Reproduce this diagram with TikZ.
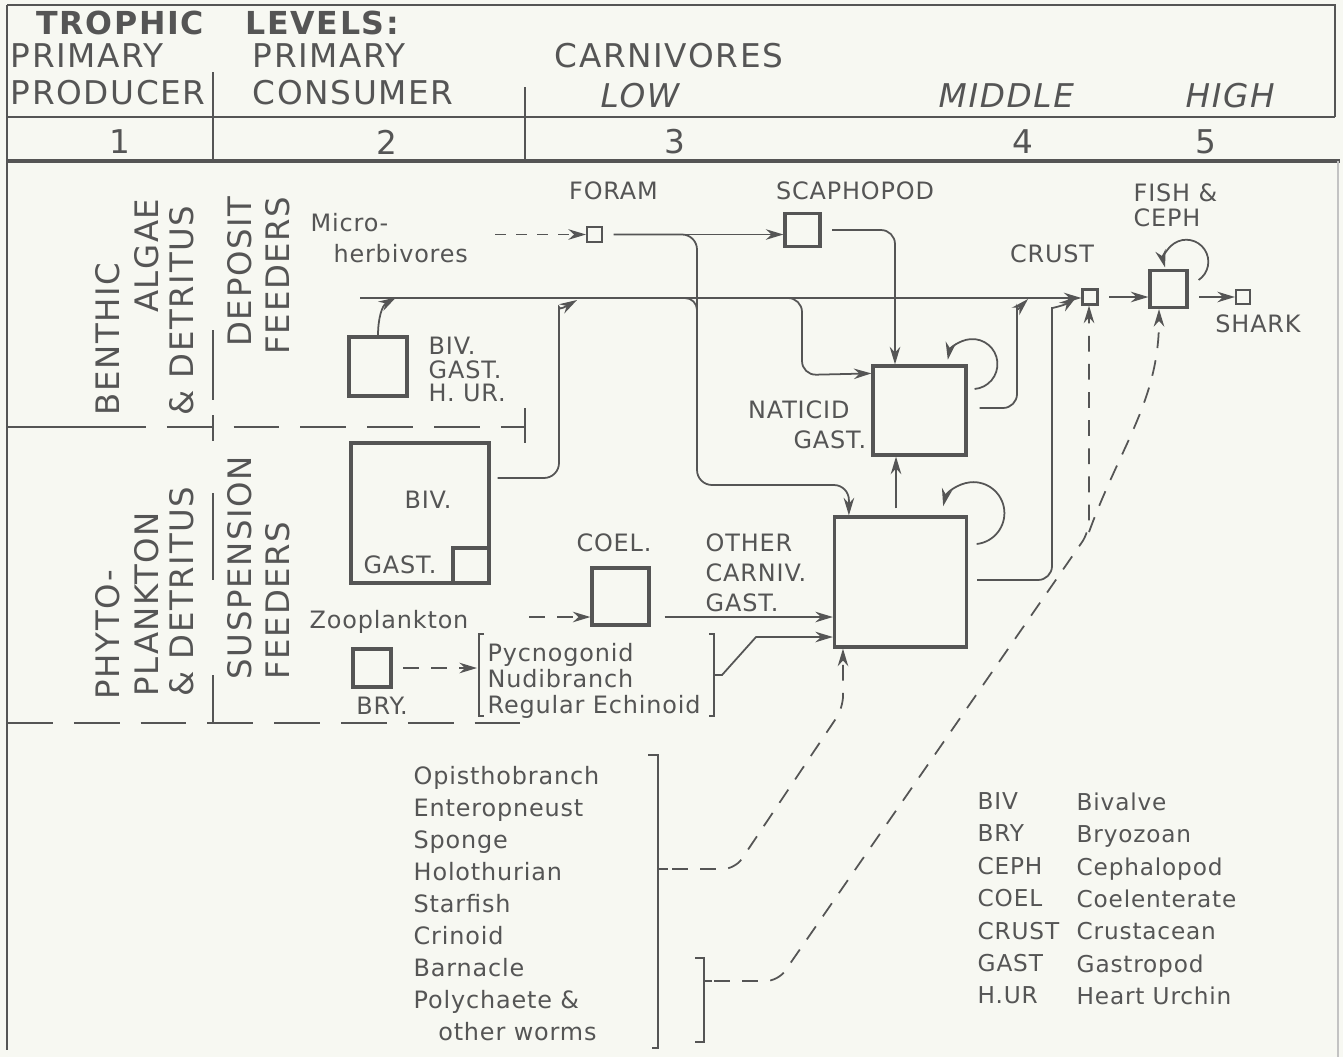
\documentclass[tikz,border=0pt]{standalone}
\usepackage{fontspec}
\setmainfont{DejaVu Sans}[LetterSpace=3.5]
\newfontfamily\headfont{DejaVu Sans}[LetterSpace=5]
\usetikzlibrary{arrows.meta}
\definecolor{ink}{RGB}{85,85,85}
\definecolor{paper}{RGB}{247,248,242}

\tikzset{
	lbl/.style={inner sep=0pt, text=ink, font=\fontsize{6.8}{8.4}\selectfont},
	hdr/.style={inner sep=0pt, text=ink, font=\headfont\fontsize{9.3}{10.5}\selectfont},
	side/.style={inner sep=0pt, text=ink, rotate=90, font=\headfont\fontsize{9.2}{10}\selectfont},
	box/.style={draw=ink, line width=0.9pt, inner sep=0pt},
	rule/.style={draw=ink, line width=0.5pt},
	flow/.style={draw=ink, line width=0.5pt, -{Stealth[length=5pt,width=3pt]}},
	feed/.style={flow, dash pattern=on 4.5pt off 3.5pt}
}

\begin{document}
\begin{tikzpicture}[x=0.01cm, y=0.01cm]
	\useasboundingbox (0,0) rectangle (1343,-1057);
	\fill[paper] (0,0) rectangle (1343,-1057);

	\draw[rule, line width=0.8pt] (7,-5) -- (1335,-5) -- (1335,-117);
	\draw[rule] (7,-117) -- (1335,-117);
	\draw[rule, line width=1.2pt] (7,-161) -- (1340,-161);
	\draw[rule] (7,-5) -- (7,-1050);
	\draw[rule] (213,-72) -- (213,-161);
	\draw[rule] (525,-87) -- (525,-161);
	\draw[rule, draw=ink!35] (1338,-161) -- (1338,-1057);

	\node[hdr, anchor=north west, font=\headfont\bfseries\fontsize{9}{10}\selectfont] (trophic) at (36,-10) {TROPHIC\hspace{12pt}LEVELS:};
	\node[hdr, anchor=north west, align=left] (prod) at (10,-43) {PRIMARY\\PRODUCER};
	\node[hdr, anchor=north west, align=left] (cons) at (252,-43) {PRIMARY\\CONSUMER};
	\node[hdr, anchor=north west] (carn) at (554,-43) {CARNIVORES};
	\node[hdr, anchor=north west, font=\headfont\itshape\fontsize{9.3}{10.5}\selectfont] (low) at (600,-83) {LOW};
	\node[hdr, anchor=north west, font=\headfont\itshape\fontsize{9.3}{10.5}\selectfont] (middle) at (938,-83) {MIDDLE};
	\node[hdr, anchor=north west, font=\headfont\itshape\fontsize{9.3}{10.5}\selectfont] (high) at (1185,-83) {HIGH};
	\node[hdr] (lev1) at (120,-142) {1};
	\node[hdr] (lev2) at (387,-142) {2};
	\node[hdr] (lev3) at (675,-142) {3};
	\node[hdr] (lev4) at (1023,-142) {4};
	\node[hdr] (lev5) at (1206,-142) {5};

	\node[side, anchor=west] (benthic) at (108,-416) {BENTHIC};
	\node[side, anchor=east] (algae) at (147,-198) {ALGAE};
	\node[side, anchor=west] (detrA) at (182,-416) {\& DETRITUS};
	\node[side, anchor=east] (deposit) at (240,-196) {DEPOSIT};
	\node[side, anchor=east] (feedA) at (278,-196) {FEEDERS};
	\node[side, anchor=west] (phyto) at (108,-700) {PHYTO-};
	\node[side, anchor=west] (plankton) at (147,-697) {PLANKTON};
	\node[side, anchor=west] (detrB) at (182,-697) {\& DETRITUS};
	\node[side, anchor=west] (suspension) at (240,-680) {SUSPENSION};
	\node[side, anchor=west] (feedB) at (278,-680) {FEEDERS};

	\draw[rule] (7,-427) -- (100,-427);
	\draw[rule, dash pattern=on 13pt off 6pt] (100,-427) -- (525,-427);
	\draw[rule] (525,-408) -- (525,-443);
	\draw[rule, dash pattern=on 13pt off 6pt] (7,-723) -- (520,-723);
	\draw[rule] (213,-330) -- (213,-400);
	\draw[rule] (213,-415) -- (213,-441);
	\draw[rule] (213,-493) -- (213,-580);
	\draw[rule] (213,-675) -- (213,-723);

	\begin{scope}[every node/.style={box}]
	\node[minimum width=0.58cm, minimum height=0.59cm] (bivdep) at (378,-366.5) {};
	\node[minimum width=1.38cm, minimum height=1.40cm] (bivsus) at (420,-513) {};
	\node[minimum width=0.36cm, minimum height=0.35cm] (gastsus) at (471,-565.5) {};
	\node[minimum size=0.38cm] (bry) at (372,-668) {};
	\node[minimum size=0.57cm] (coel) at (620.5,-596.5) {};
	\node[minimum width=0.35cm, minimum height=0.33cm] (scaph) at (802.5,-230) {};
	\node[minimum width=0.93cm, minimum height=0.89cm] (naticid) at (919.5,-410.5) {};
	\node[minimum width=1.32cm, minimum height=1.30cm] (other) at (900.5,-582) {};
	\node[minimum size=0.37cm] (fish) at (1168.5,-289) {};
	\node[minimum size=0.15cm, line width=0.6pt] (foram) at (594.5,-234.5) {};
	\node[minimum size=0.15cm, line width=0.6pt] (crust) at (1090,-297) {};
	\node[minimum size=0.14cm, line width=0.6pt] (shark) at (1243,-297) {};
	\end{scope}

	\node[lbl] (foramlbl) at (613.5,-191) {FORAM};
	\node[lbl] (scaphlbl) at (855,-191) {SCAPHOPOD};
	\node[lbl] (crustlbl) at (1052,-254) {CRUST};
	\node[lbl, anchor=north west, align=left, font=\fontsize{6.8}{7.1}\selectfont] (fishlbl) at (1133,-183) {FISH \&\\CEPH};
	\node[lbl] (sharklbl) at (1258,-324) {SHARK};
	\node[lbl, anchor=north east, align=right, font=\fontsize{6.8}{8.5}\selectfont] (natlbl) at (867,-400) {NATICID\hspace*{4.8pt}\\GAST.};
	\node[lbl, anchor=north west, align=left, font=\fontsize{6.8}{6.8}\selectfont] (bivdeplbl) at (428,-336) {BIV.\\GAST.\\H. UR.};
	\node[lbl] (bivsuslbl) at (428,-500) {BIV.};
	\node[lbl] (gastsuslbl) at (400,-565) {GAST.};
	\node[lbl] (coellbl) at (614,-543) {COEL.};
	\node[lbl, anchor=north west, align=left, font=\fontsize{6.8}{8.6}\selectfont] (othlbl) at (705,-533) {OTHER\\CARNIV.\\GAST.};
	\node[lbl, anchor=north west, align=left, font=\fontsize{6.8}{8.6}\selectfont] (microlbl) at (310,-213) {Micro-\\\hspace*{6.5pt}herbivores};
	\node[lbl, anchor=base west] (zoolbl) at (309,-628) {Zooplankton};
	\node[lbl] (brylbl) at (382,-706) {BRY.};
	\node[lbl, anchor=north west, align=left, font=\fontsize{6.8}{7.4}\selectfont] (pyclbl) at (487,-643) {Pycnogonid\\Nudibranch\\Regular\ Echinoid};
	\node[lbl, anchor=north west, align=left, font=\fontsize{6.8}{9.1}\selectfont] (worms) at (413,-766) {Opisthobranch\\Enteropneust\\Sponge\\Holothurian\\Starfish\\Crinoid\\Barnacle\\Polychaete \&\\\hspace*{7pt}other worms};
	\node[lbl, anchor=north west, align=left, font=\fontsize{6.6}{9.2}\selectfont] (legabbr) at (977,-792) {BIV\\BRY\\CEPH\\COEL\\CRUST\\GAST\\H.UR};
	\node[lbl, anchor=north west, align=left, font=\fontsize{6.6}{9.2}\selectfont] (legname) at (1076,-792) {Bivalve\\Bryozoan\\Cephalopod\\Coelenterate\\Crustacean\\Gastropod\\Heart Urchin};

	\draw[rule] (484,-634) -- (479,-634) -- (479,-716) -- (484,-716);
	\draw[rule] (709,-634) -- (714,-634) -- (714,-716) -- (709,-716);
	\draw[rule] (648,-755) -- (658,-755) -- (658,-1048) -- (652,-1048);
	\draw[rule] (658,-869) -- (668,-869);
	\draw[rule] (695,-958) -- (704,-958) -- (704,-1042) -- (695,-1042);
	\draw[rule] (704,-981) -- (712,-981);

	\coordinate (microtail) at (495,-234.5);
	\coordinate (deptail) at (360,-298);
	\coordinate (zootail) at (529,-617);
	\coordinate (pycL) at (477,-668);
	\coordinate (pycR) at (714,-675);
	\coordinate (brkA) at (672,-869);
	\coordinate (brkB) at (714,-981);
	\coordinate (split) at (780,-298);
	\coordinate (fork) at (1089,-532);

	\draw[feed, dash pattern=on 3pt off 3pt] (microtail) -- (foram.west);
	\draw[flow, shorten <=3pt] (foram.east) -- (foram.east -| scaph.west);
	\draw[flow, rounded corners=0.15cm, shorten <=3pt] (foram.east) -- (697,-234.5) -- (697,-485) -| ([xshift=0.16cm]other.north west);
	\draw[rule, rounded corners=0.12cm] (675,-298) -- (697,-298) -- (697,-330);
	\draw[flow] (deptail) -- (deptail -| crust.west);
	\draw[flow] (bivdep.north) to[out=90,in=210] ++(18,38);
	\draw[flow, rounded corners=0.15cm] ([shift={(0.07cm,0.35cm)}]bivsus.east) -- (559,-478) -- (559,-322) to[out=90,in=210] ++(18,22);
	\draw[flow, rounded corners=0.14cm] (split) -- (802,-298) -- (802,-375) -- ([yshift=-0.09cm]naticid.north west);
	\draw[flow, rounded corners=0.14cm, shorten <=3pt] (scaph.east) -| ([xshift=-0.245cm]naticid.north);
	\draw[flow] ([shift={(0.07cm,0.215cm)}]naticid.east) arc[start angle=-85, end angle=170, radius=0.25cm];
	\draw[flow] ([shift={(0.085cm,0.38cm)}]other.east) arc[start angle=-84, end angle=167, radius=0.31cm];
	\draw[flow] ([shift={(0.1cm,0.09cm)}]fish.east) arc[start angle=-56, end angle=195, radius=0.22cm];
	\draw[flow, shorten <=2pt] ([xshift=-0.045cm]other.north) -- ([xshift=-0.045cm]other.north |- naticid.south);
	\draw[flow, rounded corners=0.14cm] ([shift={(0.12cm,0.025cm)}]naticid.east) -- (1017,-408) -- (1017,-322) to[out=90,in=225] ++(11,23);
	\draw[flow, rounded corners=0.14cm] ([shift={(0.09cm,0.02cm)}]other.east) -- (1052,-580) -- (1052,-322) to[out=90,in=215] ([xshift=-0.05cm]crust.west);
	\draw[flow, shorten <=3pt] (crust.east) -- (crust.east -| fish.west);
	\draw[flow, shorten <=3pt] (fish.east |- shark) -- (shark.west);
	\draw[feed, rounded corners=0.12cm] (brkB) -- (778,-981) -- (fork) -- (fork |- crust.south);
	\draw[feed] (fork) to[out=70,in=-90] ([xshift=-0.095cm]fish.south);
	\draw[feed, rounded corners=0.12cm] (brkA) -- (735,-869) -- (843,-708) -- ([xshift=-0.575cm]other.south);
	\draw[feed] (zootail) -- (zootail -| coel.west);
	\draw[flow, shorten <=4pt] (coel.east |- zootail) -- (other.west |- zootail);
	\draw[feed, shorten <=3pt] (bry.east) -- (pycL);
	\draw[flow] (pycR) -- ++(8,0) -- (756,-637) -- (other.west |- 756,-637);
\end{tikzpicture}
\end{document}
